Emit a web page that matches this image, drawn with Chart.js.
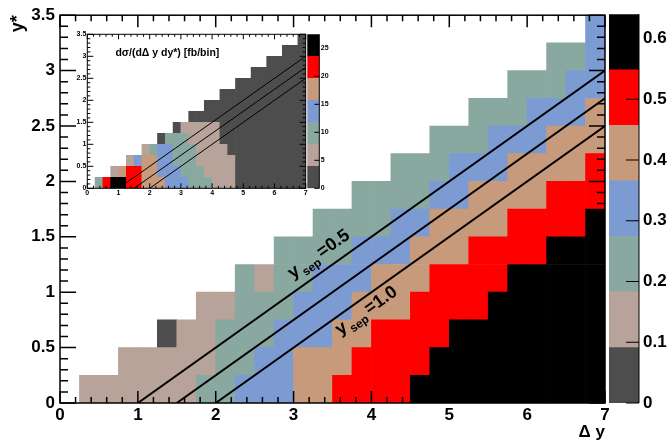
<!DOCTYPE html>
<html>
<head>
<meta charset="utf-8">
<script src="https://cdn.jsdelivr.net/npm/chart.js@4.4.1/dist/chart.umd.min.js"></script>
<style>
  html, body { margin: 0; padding: 0; background: #fff; }
  #wrap { position: relative; width: 669px; height: 441px; overflow: hidden; }
  canvas { position: absolute; }
</style>
</head>
<body>
<div id="wrap">
  <canvas id="main" width="669" height="441" style="left:0;top:0;width:669px;height:441px"></canvas>
  <canvas id="mainPal" width="69" height="441" style="left:600px;top:0;width:69px;height:441px"></canvas>
  <canvas id="inset" width="250" height="176" style="left:60px;top:26px;width:250px;height:176px"></canvas>
  <canvas id="insetPal" width="40" height="176" style="left:300px;top:26px;width:40px;height:176px"></canvas>
</div>
<script>
const FONT = "'Liberation Sans', Arial, Helvetica, sans-serif";
const _ = null;

// ------------------------------------------------------------
// BINS AND TICKS
// ------------------------------------------------------------
const dyEdges = [0, 0.25, 0.5, 0.75, 1, 1.25, 1.5, 1.75, 2, 2.25, 2.5, 2.75, 3, 3.25, 3.5,
                 3.75, 4, 4.25, 4.5, 4.75, 5, 5.25, 5.5, 5.75, 6, 6.25, 6.5, 6.75, 7];
const ystarEdges = [0, 0.25, 0.5, 0.75, 1, 1.25, 1.5, 1.75, 2, 2.25, 2.5, 2.75, 3, 3.25, 3.5];

const mainXTicks = [0, 1, 2, 3, 4, 5, 6, 7];
const mainYTicks = [0, 0.5, 1, 1.5, 2, 2.5, 3, 3.5];
const mainZTicks = [0, 0.1, 0.2, 0.3, 0.4, 0.5, 0.6];
const insetZTicks = [0, 5, 10, 15, 20, 25];

const paletteColors = ["#4d4d4d", "#b7a399", "#89a8a0", "#7d9bd3", "#c69a7b", "#ff0000", "#000000"];
const mainZMax = 0.64;
const insetZMax = 27.5;

// ------------------------------------------------------------
// MAIN HISTOGRAM (fraction), one array per y* row, bottom row first
// ------------------------------------------------------------
const mainRow0  = [_,.14,.14,.14,.14,.14,.14,.23,.23,.32,.32,.32,.41,.41,.50,.50,.50,.50,.59,.59,.59,.59,.59,.59,.59,.59,.59,.59];
const mainRow1  = [_,_,_,.14,.14,.14,.14,.14,.23,.23,.32,.32,.41,.41,.41,.50,.50,.50,.50,.59,.59,.59,.59,.59,.59,.59,.59,.59];
const mainRow2  = [_,_,_,_,_,.05,.14,.14,.23,.23,.23,.32,.32,.32,.41,.41,.50,.50,.50,.50,.59,.59,.59,.59,.59,.59,.59,.59];
const mainRow3  = [_,_,_,_,_,_,_,.14,.14,.23,.23,.23,.32,.32,.32,.41,.41,.41,.50,.50,.50,.50,.59,.59,.59,.59,.59,.59];
const mainRow4  = [_,_,_,_,_,_,_,_,_,.23,.14,.23,.23,.32,.32,.32,.41,.41,.41,.50,.50,.50,.50,.59,.59,.59,.59,.59];
const mainRow5  = [_,_,_,_,_,_,_,_,_,_,_,.23,.23,.23,.23,.32,.32,.32,.41,.41,.41,.50,.50,.50,.50,.59,.59,.59];
const mainRow6  = [_,_,_,_,_,_,_,_,_,_,_,_,_,.23,.23,.23,.23,.32,.32,.41,.41,.41,.41,.50,.50,.50,.50,.59];
const mainRow7  = [_,_,_,_,_,_,_,_,_,_,_,_,_,_,_,.23,.23,.23,.23,.32,.32,.41,.41,.41,.41,.50,.50,.50];
const mainRow8  = [_,_,_,_,_,_,_,_,_,_,_,_,_,_,_,_,_,.23,.23,.23,.32,.32,.32,.41,.41,.41,.41,.50];
const mainRow9  = [_,_,_,_,_,_,_,_,_,_,_,_,_,_,_,_,_,_,_,.23,.23,.23,.32,.32,.32,.41,.41,.41];
const mainRow10 = [_,_,_,_,_,_,_,_,_,_,_,_,_,_,_,_,_,_,_,_,_,.23,.23,.23,.32,.32,.32,.41];
const mainRow11 = [_,_,_,_,_,_,_,_,_,_,_,_,_,_,_,_,_,_,_,_,_,_,_,.23,.23,.23,.32,.32];
const mainRow12 = [_,_,_,_,_,_,_,_,_,_,_,_,_,_,_,_,_,_,_,_,_,_,_,_,_,.23,.23,.32];
const mainRow13 = [_,_,_,_,_,_,_,_,_,_,_,_,_,_,_,_,_,_,_,_,_,_,_,_,_,_,_,.32];
const mainRows = [mainRow0, mainRow1, mainRow2, mainRow3, mainRow4, mainRow5, mainRow6,
                  mainRow7, mainRow8, mainRow9, mainRow10, mainRow11, mainRow12, mainRow13];

// ------------------------------------------------------------
// INSET HISTOGRAM (fb/bin)
// ------------------------------------------------------------
const insetRow0  = [_,10,21.5,25.5,25.5,21.5,21.5,18,18,18,14,14,14,10,10,10,6,6,6,2,2,2,2,2,2,2,2,2];
const insetRow1  = [_,_,_,6,18,21.5,21.5,18,18,14,14,14,10,10,10,6,6,6,6,2,2,2,2,2,2,2,2,2];
const insetRow2  = [_,_,_,_,_,6,14,18,18,14,14,10,10,10,6,6,6,6,6,2,2,2,2,2,2,2,2,2];
const insetRow3  = [_,_,_,_,_,_,_,6,10,14,14,10,10,10,6,6,6,6,2,2,2,2,2,2,2,2,2,2];
const insetRow4  = [_,_,_,_,_,_,_,_,_,2,10,10,10,6,6,6,6,2,2,2,2,2,2,2,2,2,2,2];
const insetRow5  = [_,_,_,_,_,_,_,_,_,_,_,2,6,6,6,6,6,2,2,2,2,2,2,2,2,2,2,2];
const insetRow6  = [_,_,_,_,_,_,_,_,_,_,_,_,_,2,2,2,2,2,2,2,2,2,2,2,2,2,2,2];
const insetRow7  = [_,_,_,_,_,_,_,_,_,_,_,_,_,_,_,2,2,2,2,2,2,2,2,2,2,2,2,2];
const insetRow8  = [_,_,_,_,_,_,_,_,_,_,_,_,_,_,_,_,_,2,2,2,2,2,2,2,2,2,2,2];
const insetRow9  = [_,_,_,_,_,_,_,_,_,_,_,_,_,_,_,_,_,_,_,2,2,2,2,2,2,2,2,2];
const insetRow10 = [_,_,_,_,_,_,_,_,_,_,_,_,_,_,_,_,_,_,_,_,_,2,2,2,2,2,2,2];
const insetRow11 = [_,_,_,_,_,_,_,_,_,_,_,_,_,_,_,_,_,_,_,_,_,_,_,2,2,2,2,2];
const insetRow12 = [_,_,_,_,_,_,_,_,_,_,_,_,_,_,_,_,_,_,_,_,_,_,_,_,_,2,2,2];
const insetRow13 = [_,_,_,_,_,_,_,_,_,_,_,_,_,_,_,_,_,_,_,_,_,_,_,_,_,_,_,2];
const insetRows = [insetRow0, insetRow1, insetRow2, insetRow3, insetRow4, insetRow5, insetRow6,
                   insetRow7, insetRow8, insetRow9, insetRow10, insetRow11, insetRow12, insetRow13];

// y_sep lines
const sepLine05  = [{ x: 1,   y: 0 }, { x: 7, y: 3 }];
const sepLine075 = [{ x: 1.5, y: 0 }, { x: 7, y: 2.75 }];
const sepLine10  = [{ x: 2,   y: 0 }, { x: 7, y: 2.5 }];
const insetLine05 = [{ x: 1.25, y: 0.125 }, { x: 7, y: 3 }];

// ------------------------------------------------------------
// HELPERS
// ------------------------------------------------------------
const fmt = v => String(Math.round(v * 1000) / 1000);

function levelColor(v, zMax) {
  const i = Math.floor(v / (zMax / paletteColors.length));
  return paletteColors[Math.max(0, Math.min(paletteColors.length - 1, i))];
}

function cellSets(rows, zMax) {
  return rows.map((row, r) => ({
    type: "bar",
    order: 1,
    data: row
      .map((v, k) => v === null ? null : {
        x: (dyEdges[k] + dyEdges[k + 1]) / 2,
        y: [ystarEdges[r], ystarEdges[r + 1]],
        v
      })
      .filter(Boolean),
    backgroundColor: c => (c.raw ? levelColor(c.raw.v, zMax) : "#000")
  }));
}

function lineSet(data, width) {
  return {
    type: "line", order: 0, data,
    borderColor: "#000", borderWidth: width,
    pointRadius: 0, fill: false, tension: 0
  };
}

// ROOT-like frame with inward ticks on all four sides
const frameTicks = {
  id: "frameTicks",
  afterDatasetsDraw(chart, args, o) {
    const { ctx, chartArea: a } = chart;
    const xs = chart.scales.x, ys = chart.scales.y;
    ctx.save();
    ctx.strokeStyle = "#000";
    ctx.lineWidth = o.width;
    ctx.beginPath();
    let n = Math.round((xs.max - xs.min) / o.xMinor);
    for (let i = 0; i <= n; i++) {
      const v = xs.min + i * o.xMinor;
      const major = Math.abs(v / o.xMajor - Math.round(v / o.xMajor)) < 1e-6;
      const len = major ? o.xLen : o.xLen / 2;
      const px = xs.getPixelForValue(v);
      ctx.moveTo(px, a.bottom); ctx.lineTo(px, a.bottom - len);
      ctx.moveTo(px, a.top); ctx.lineTo(px, a.top + len);
    }
    n = Math.round((ys.max - ys.min) / o.yMinor);
    for (let i = 0; i <= n; i++) {
      const v = ys.min + i * o.yMinor;
      const major = Math.abs(v / o.yMajor - Math.round(v / o.yMajor)) < 1e-6;
      const len = major ? o.yLen : o.yLen / 2;
      const py = ys.getPixelForValue(v);
      ctx.moveTo(a.left, py); ctx.lineTo(a.left + len, py);
      ctx.moveTo(a.right, py); ctx.lineTo(a.right - len, py);
    }
    ctx.stroke();
    ctx.strokeRect(a.left, a.top, a.right - a.left, a.bottom - a.top);
    ctx.restore();
  }
};

// y_sep labels along the lines + inset title
const notes = {
  id: "notes",
  afterDatasetsDraw(chart, args, o) {
    const { ctx } = chart;
    const xs = chart.scales.x, ys = chart.scales.y;
    const ang = Math.atan2(ys.getPixelForValue(0) - ys.getPixelForValue(1),
                           xs.getPixelForValue(2) - xs.getPixelForValue(0));
    (o.sep || []).forEach(it => {
      ctx.save();
      ctx.translate(xs.getPixelForValue(it.x), ys.getPixelForValue(it.y));
      ctx.rotate(-ang);
      ctx.fillStyle = "#000";
      ctx.textBaseline = "alphabetic";
      ctx.font = `bold ${it.size}px ${FONT}`;
      ctx.fillText("y", 0, 0);
      let w = ctx.measureText("y").width + 2;
      ctx.font = `bold ${Math.round(it.size * 0.68)}px ${FONT}`;
      ctx.fillText("sep", w, it.size * 0.3);
      w += ctx.measureText("sep").width + 3;
      ctx.font = `bold ${it.size}px ${FONT}`;
      ctx.fillText(it.text, w, 0);
      ctx.restore();
    });
    (o.text || []).forEach(it => {
      ctx.save();
      ctx.fillStyle = "#000";
      ctx.textBaseline = "middle";
      ctx.font = `bold ${it.size}px ${FONT}`;
      ctx.fillText(it.text, xs.getPixelForValue(it.x), ys.getPixelForValue(it.y));
      ctx.restore();
    });
  }
};

// palette ticks on the right edge, pointing inward
const palTicks = {
  id: "palTicks",
  afterDatasetsDraw(chart, args, o) {
    const { ctx, chartArea: a } = chart;
    const ys = chart.scales.y;
    ctx.save();
    ctx.strokeStyle = "#000";
    ctx.lineWidth = 1;
    ctx.beginPath();
    ys.ticks.forEach(t => {
      const py = ys.getPixelForValue(t.value);
      ctx.moveTo(a.right, py); ctx.lineTo(a.right - o.len, py);
    });
    ctx.moveTo(a.right, a.top); ctx.lineTo(a.right, a.bottom);
    ctx.stroke();
    ctx.restore();
  }
};

function histChart(id, cfg) {
  const font = { family: FONT, size: cfg.fontSize, weight: "bold", lineHeight: 1.2 };
  return new Chart(document.getElementById(id), {
    type: "bar",
    data: { datasets: cfg.datasets },
    options: {
      responsive: false, animation: false, events: [], devicePixelRatio: 1,
      layout: { padding: cfg.pad },
      datasets: { bar: { barPercentage: 1, categoryPercentage: 1, grouped: false, borderWidth: 0 } },
      plugins: {
        legend: { display: false }, tooltip: { enabled: false },
        frameTicks: cfg.frame, notes: cfg.notes
      },
      scales: {
        x: {
          type: "linear", min: 0, max: 7, offset: false,
          grid: { display: false, drawTicks: false }, border: { display: false },
          afterBuildTicks: s => { s.ticks = mainXTicks.map(v => ({ value: v })); },
          afterFit: s => { s.height = cfg.xH; },
          ticks: { autoSkip: false, maxRotation: 0, padding: cfg.xPad, color: "#000", font, callback: v => fmt(v) },
          title: cfg.xTitle || { display: false }
        },
        y: {
          type: "linear", min: 0, max: 3.5,
          grid: { display: false, drawTicks: false }, border: { display: false },
          afterBuildTicks: s => { s.ticks = mainYTicks.map(v => ({ value: v })); },
          afterFit: s => { s.width = cfg.yW; },
          ticks: { autoSkip: false, padding: cfg.yPad, color: "#000", font, callback: v => fmt(v) },
          title: cfg.yTitle || { display: false }
        }
      }
    },
    plugins: [frameTicks, notes]
  });
}

function paletteChart(id, zMax, ticks, cfg) {
  const step = zMax / paletteColors.length;
  return new Chart(document.getElementById(id), {
    type: "bar",
    data: { labels: [""], datasets: paletteColors.map(c => ({ data: [step], backgroundColor: c })) },
    options: {
      responsive: false, animation: false, events: [], devicePixelRatio: 1,
      layout: { padding: cfg.pad },
      datasets: { bar: { barPercentage: 1, categoryPercentage: 1, borderWidth: 0 } },
      plugins: { legend: { display: false }, tooltip: { enabled: false }, palTicks: { len: cfg.tickLen } },
      scales: {
        x: { display: false, stacked: true },
        y: {
          position: "right", stacked: true, min: 0, max: zMax,
          grid: { display: false, drawTicks: false }, border: { display: false },
          afterBuildTicks: s => { s.ticks = ticks.map(v => ({ value: v })); },
          afterFit: s => { s.width = cfg.axisW; },
          ticks: { autoSkip: false, padding: cfg.labelPad, color: "#000",
                   font: { family: FONT, size: cfg.fontSize, weight: "bold" }, callback: v => fmt(v) }
        }
      }
    },
    plugins: [palTicks]
  });
}

// ------------------------------------------------------------
// MAIN PLOT
// ------------------------------------------------------------
histChart("main", {
  datasets: [lineSet(sepLine05, 2), lineSet(sepLine075, 2), lineSet(sepLine10, 2), ...cellSets(mainRows, mainZMax)],
  pad: { left: 0, top: 11, right: 64, bottom: 0 },
  fontSize: 17, xH: 38, yW: 60, xPad: 2, yPad: 5,
  xTitle: { display: true, text: "\u0394 y", align: "end", color: "#000", padding: { top: 0, bottom: 0 },
            font: { family: FONT, size: 17, weight: "bold", lineHeight: 1 } },
  yTitle: { display: true, text: "y*", align: "end", color: "#000", padding: { top: 9, bottom: 0 },
            font: { family: FONT, size: 18, weight: "bold", lineHeight: 1 } },
  frame: { xMinor: 0.2, xMajor: 1, xLen: 12, yMinor: 0.1, yMajor: 0.5, yLen: 16, width: 1.5 },
  notes: {
    sep: [
      { x: 2.99, y: 1.12, text: "=0.5", size: 18 },
      { x: 3.6,  y: 0.61, text: "=1.0", size: 18 }
    ]
  }
});

paletteChart("mainPal", mainZMax, mainZTicks, {
  pad: { left: 9, top: 11, right: 0, bottom: 38 },
  axisW: 30, labelPad: 4, fontSize: 17, tickLen: 13
});

// ------------------------------------------------------------
// INSET
// ------------------------------------------------------------
histChart("inset", {
  datasets: [lineSet(insetLine05, 1), lineSet(sepLine075, 1), lineSet(sepLine10, 1), ...cellSets(insetRows, insetZMax)],
  pad: { left: 0, top: 8.3, right: 4.3, bottom: 0 },
  fontSize: 7, xH: 13.7, yW: 27.3, xPad: 1, yPad: 1,
  frame: { xMinor: 0.2, xMajor: 1, xLen: 5, yMinor: 0.1, yMajor: 0.5, yLen: 6, width: 1 },
  notes: {
    text: [{ x: 0.9, y: 3.07, text: "d\u03c3/(d\u0394 y dy*) [fb/bin]", size: 10.5 }]
  }
});

paletteChart("insetPal", insetZMax, insetZTicks, {
  pad: { left: 7.3, top: 8.3, right: 0, bottom: 13.7 },
  axisW: 20.7, labelPad: 1.5, fontSize: 7, tickLen: 5
});
</script>
</body>
</html>
